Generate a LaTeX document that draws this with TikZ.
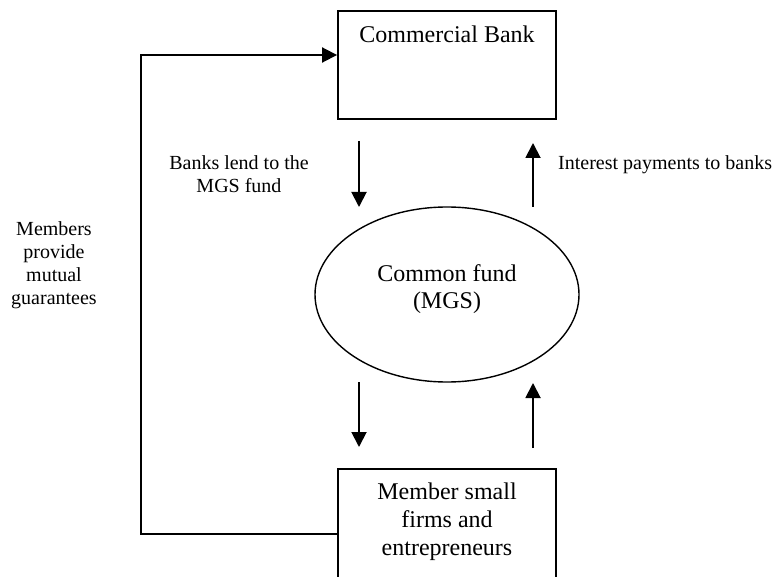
\documentclass[tikz,border=0pt]{standalone}
\usepackage{fontspec}
\setmainfont{Liberation Serif}
\usetikzlibrary{arrows.meta,shapes.geometric}
\begin{document}
\begin{tikzpicture}[x=1pt,y=-1pt,
  box/.style={draw,line width=1.9pt,rectangle,inner sep=0pt,minimum width=218pt},
  boxtext/.style={font=\fontsize{24}{28}\selectfont,align=center,inner sep=0pt},
  note/.style={font=\fontsize{20}{23}\selectfont,align=center,inner sep=0pt},
  flow/.style={line width=1.9pt,line join=miter,-{Triangle[width=15pt,length=15pt]}}]
\useasboundingbox (0,0) rectangle (773,577);

% boxes and the common fund
\node[box,minimum height=108pt] (bank) at (447,65) {};
\node[boxtext,anchor=base] (banktext) at (447,43) {Commercial Bank};
\node[ellipse,draw,line width=1.4pt,minimum width=264pt,minimum height=175pt,inner sep=0pt] (fund) at (447,294.5) {};
\node[boxtext,font=\fontsize{24}{26.5}\selectfont] (fundtext) at (447,289) {Common fund\\(MGS)};
\node[box,minimum height=140pt] (firms) at (447,539) {};
\node[boxtext] (firmstext) at (447,521.4) {Member small\\firms and\\entrepreneurs};

% flow arrows between the boxes and the fund
\coordinate (lendA) at (359,141);
\coordinate (lendB) at (359,207);
\coordinate (lendC) at (359,382);
\coordinate (lendD) at (359,447);
\coordinate (payA) at (533,448);
\coordinate (payB) at (533,383);
\coordinate (payC) at (533,207);
\coordinate (payD) at (533,143);
\draw[flow] (lendA) -- (lendB);
\draw[flow] (lendC) -- (lendD);
\draw[flow] (payA) -- (payB);
\draw[flow] (payC) -- (payD);

% guarantee loop from the members back to the bank
\coordinate (lowcorner) at (141,534);
\coordinate (highcorner) at (141,55);
\draw[flow] ([yshift=5pt]firms.west) -- (lowcorner) -- (highcorner) -- ([yshift=10pt]bank.west);

% labels
\node[note] (lendlabel) at (239,174.6) {Banks lend to the\\MGS fund};
\node[note,anchor=base west] (paylabel) at (558,170) {Interest payments to banks};
\node[note] (guarlabel) at (54,264.8) {Members\\provide\\mutual\\guarantees};
\end{tikzpicture}
\end{document}
